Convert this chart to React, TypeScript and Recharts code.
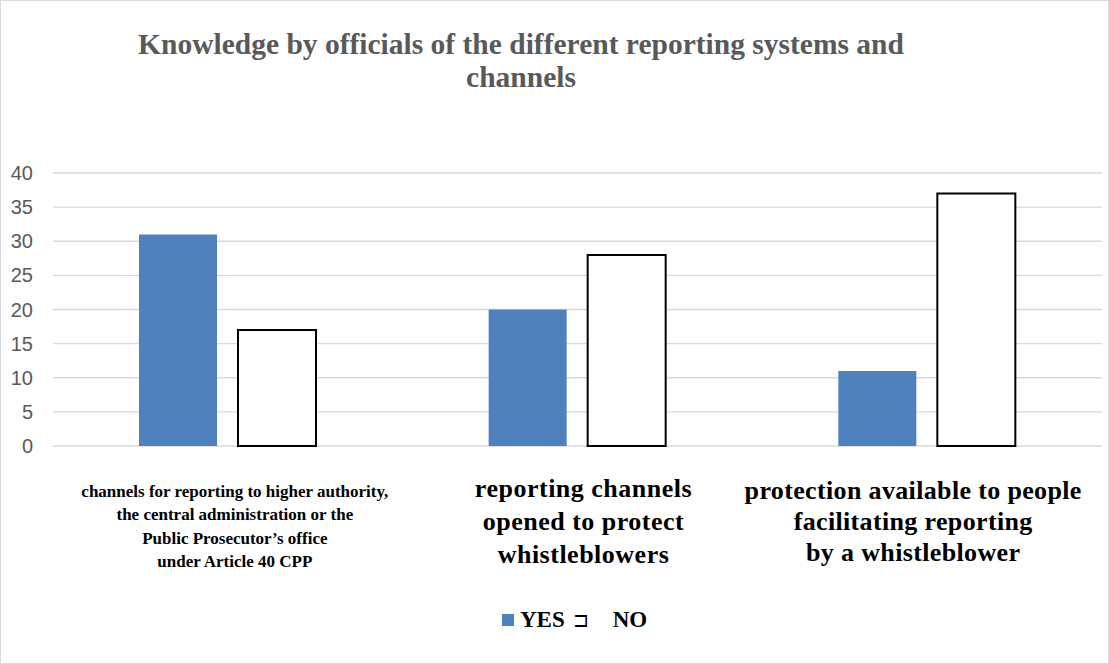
import React from "react";
import { BarChart, Bar, XAxis, YAxis, CartesianGrid } from "recharts";

const categories = ["channels", "whistleblowers", "facilitators"];
const yesValues = [31, 20, 11];
const noValues = [17, 28, 37];
const tickLines = [
  [
    "channels for reporting to higher authority,",
    "the central administration or the",
    "Public Prosecutor\u2019s office",
    "under Article 40 CPP",
  ],
  ["reporting channels", "opened to protect", "whistleblowers"],
  ["protection available to people", "facilitating reporting", "by a whistleblower"],
];
const yTicks = [0, 5, 10, 15, 20, 25, 30, 35, 40];
const titleLines = [
  "Knowledge by officials of the different reporting systems and",
  "channels",
];

const data = categories.map((c, i) => ({
  category: c,
  YES: yesValues[i],
  NO: noValues[i],
}));

const W = 1109;
const H = 664;
const serif = "'Liberation Serif', 'Times New Roman', serif";
const sans = "'Liberation Sans', Arial, sans-serif";

// per-category label styling: first label is small and dense, the others larger
const tickStyle = [
  { size: 17, lineH: 23.3, first: 497, dx: 7, ls: 0 },
  { size: 26, lineH: 33, first: 497, dx: 6, ls: 0.5 },
  { size: 26, lineH: 31, first: 499, dx: -14, ls: 0.35 },
];

const CategoryTick = (props: any) => {
  const { x, index } = props;
  const lines = tickLines[index] || [];
  const st = tickStyle[index] || tickStyle[1];
  return (
    <g>
      {lines.map((l, i) => (
        <text
          key={i}
          x={x + st.dx}
          y={st.first + i * st.lineH}
          textAnchor="middle"
          fontFamily={serif}
          fontWeight="bold"
          fontSize={st.size}
          letterSpacing={st.ls}
          fill="#000"
        >
          {l}
        </text>
      ))}
    </g>
  );
};

const ValueTick = (props: any) => {
  const { y, payload } = props;
  return (
    <text
      x={33}
      y={y}
      dy={7}
      textAnchor="end"
      fontFamily={sans}
      fontSize={20}
      fill="#595959"
    >
      {payload.value}
    </text>
  );
};

const LegendBox = () => (
  <div
    style={{
      position: "absolute",
      top: 606,
      left: 0,
      width: W,
      display: "flex",
      alignItems: "center",
      paddingLeft: 501,
      fontFamily: serif,
      fontWeight: "bold",
      fontSize: 23,
      color: "#000",
      boxSizing: "border-box",
    }}
  >
    <span
      style={{
        display: "inline-block",
        width: 12,
        height: 12,
        background: "#4f81bd",
        marginRight: 6,
      }}
    />
    <span>YES</span>
    <span style={{ fontWeight: "normal", fontSize: 19, marginLeft: 8 }}>{"\u2290"}</span>
    <span style={{ marginLeft: 24 }}>NO</span>
  </div>
);

export default function App() {
  return (
    <div
      style={{
        position: "absolute",
        left: 0,
        top: 0,
        width: W,
        height: H,
        background: "#fff",
        boxSizing: "border-box",
        border: "1.5px solid #d9d9d9",
      }}
    >
      <div
        style={{
          position: "absolute",
          left: 0,
          top: 27,
          width: 1040,
          textAlign: "center",
          fontFamily: serif,
          fontWeight: "bold",
          fontSize: 29.5,
          lineHeight: "33px",
          color: "#595959",
        }}
      >
        {titleLines.map((t, i) => (
          <div key={i}>{t}</div>
        ))}
      </div>
      <div style={{ position: "absolute", left: -1.5, top: -1.5 }}>
        <BarChart
          width={W}
          height={H}
          data={data}
          margin={{ top: 173, right: 7, bottom: 0, left: 0 }}
          barSize={78}
          barGap={21}
        >
          <CartesianGrid vertical={false} stroke="#d9d9d9" strokeWidth={1.4} />
          <XAxis
            dataKey="category"
            axisLine={false}
            tickLine={false}
            height={218}
            interval={0}
            tick={<CategoryTick />}
          />
          <YAxis
            domain={[0, 40]}
            ticks={yTicks}
            axisLine={false}
            tickLine={false}
            width={53}
            tick={<ValueTick />}
          />
          <Bar dataKey="YES" fill="#4f81bd" isAnimationActive={false} />
          <Bar
            dataKey="NO"
            fill="#ffffff"
            stroke="#000"
            strokeWidth={2}
            isAnimationActive={false}
          />
        </BarChart>
      </div>
      <LegendBox />
    </div>
  );
}
